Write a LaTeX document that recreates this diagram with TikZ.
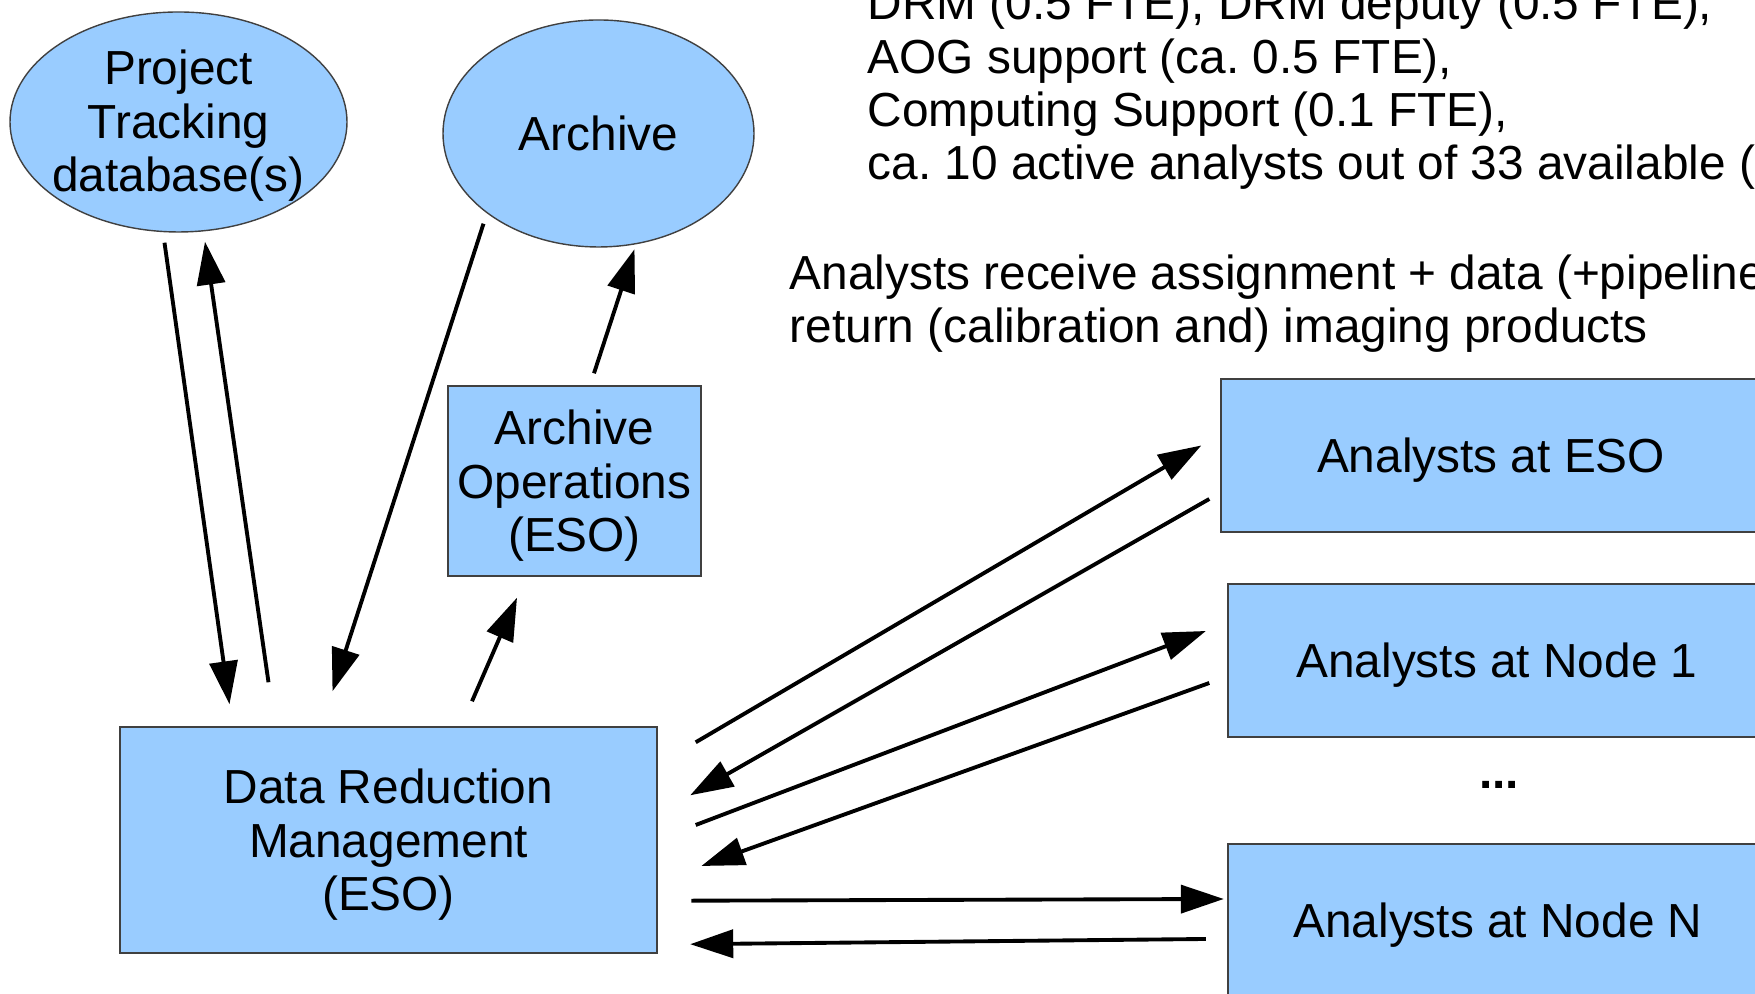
\documentclass[tikz,border=0pt]{standalone}
\usepackage{fontspec}
\setmainfont{Liberation Sans}
\frenchspacing
\usetikzlibrary{shapes.geometric,arrows.meta}
\definecolor{boxblue}{RGB}{153,204,255}
\tikzset{
  basenode/.style = {align=center, inner sep=0pt, font=\fontsize{13.6pt}{15.2pt}\selectfont},
  ellnode/.style = {basenode, ellipse, fill=boxblue, draw=black!75, line width=0.4pt},
  boxnode/.style = {basenode, rectangle, text depth=0pt, fill=boxblue, draw=black!75, line width=0.4pt},
  textnode/.style = {basenode, align=left, anchor=base west},
  arr/.style = {line width=1.1pt, -{Triangle[length=0.43cm,width=0.28cm]}},
}
\begin{document}
\begin{tikzpicture}
\useasboundingbox (0,0) rectangle (17.55,9.94);
\clip (0,0) rectangle (17.55,9.94);
\node [ellnode, minimum width=3.37cm, minimum height=2.20cm,
  label={[basenode, yshift=-0.04cm]center:Project\\Tracking\\database(s)}] (pt) at (1.785,8.72) {};
\node [ellnode, minimum width=3.11cm, minimum height=2.27cm] (arch) at (5.985,8.605) {Archive};
\node [boxnode, minimum width=2.53cm, minimum height=1.90cm] (aops) at (5.745,5.13) {Archive\\Operations\\(ESO)};
\node [boxnode, minimum width=5.37cm, minimum height=2.26cm] (drm) at (3.885,1.54) {Data Reduction\\Management\\(ESO)};
\node [boxnode, minimum width=5.40cm, minimum height=1.53cm] (eso) at (14.91,5.385) {Analysts at ESO};
\node [boxnode, minimum width=5.38cm, minimum height=1.53cm] (n1) at (14.97,3.335) {Analysts at Node 1};
\node [basenode, font=\fontsize{13.6pt}{15.2pt}\selectfont\bfseries] (dots) at (14.99,2.09) {...};
\node [boxnode, minimum width=5.40cm, minimum height=1.52cm] (nN) at (14.98,0.74) {Analysts at Node N};

\node [textnode] (staff) at (8.67,8.14) {DRM (0.5 FTE), DRM deputy (0.5 FTE),\\AOG support (ca. 0.5 FTE),\\Computing Support (0.1 FTE),\\ca. 10 active analysts out of 33 available (};
\node [textnode] (flow) at (7.89,6.51) {Analysts receive assignment + data (+pipeline\\return (calibration and) imaging products};

\draw [arr] ([shift={(-0.14,-0.10)}]pt.south) -- ([shift={(-1.59,0.22)}]drm.north);
\draw [arr] ([shift={(-1.20,0.44)}]drm.north) -- ([shift={(0.265,-0.09)}]pt.south);
\draw [arr] ([shift={(-1.15,0.24)}]arch.south) -- ([shift={(-0.56,0.35)}]drm.north);
\draw [arr] ([shift={(0.835,0.25)}]drm.north) -- ([shift={(-0.575,-0.21)}]aops.south);
\draw [arr] ([shift={(0.195,0.12)}]aops.north) -- ([shift={(0.36,-0.015)}]arch.south);
\draw [arr] ([shift={(0.38,-0.16)}]drm.north east) -- ([shift={(-0.19,0.10)}]eso.west);
\draw [arr] ([shift={(-0.11,-0.435)}]eso.west) -- ([shift={(0.325,-0.69)}]drm.north east);
\draw [arr] ([shift={(0.38,0.15)}]drm.east) -- ([shift={(-0.214,0.295)}]n1.west);
\draw [arr] ([shift={(-0.18,-0.225)}]n1.west) -- ([shift={(0.437,-0.26)}]drm.east);
\draw [arr] ([shift={(0.336,0.53)}]drm.south east) -- ([shift={(-0.035,0.21)}]nN.west);
\draw [arr] ([shift={(-0.214,-0.19)}]nN.west) -- ([shift={(0.325,0.095)}]drm.south east);
\end{tikzpicture}
\end{document}
